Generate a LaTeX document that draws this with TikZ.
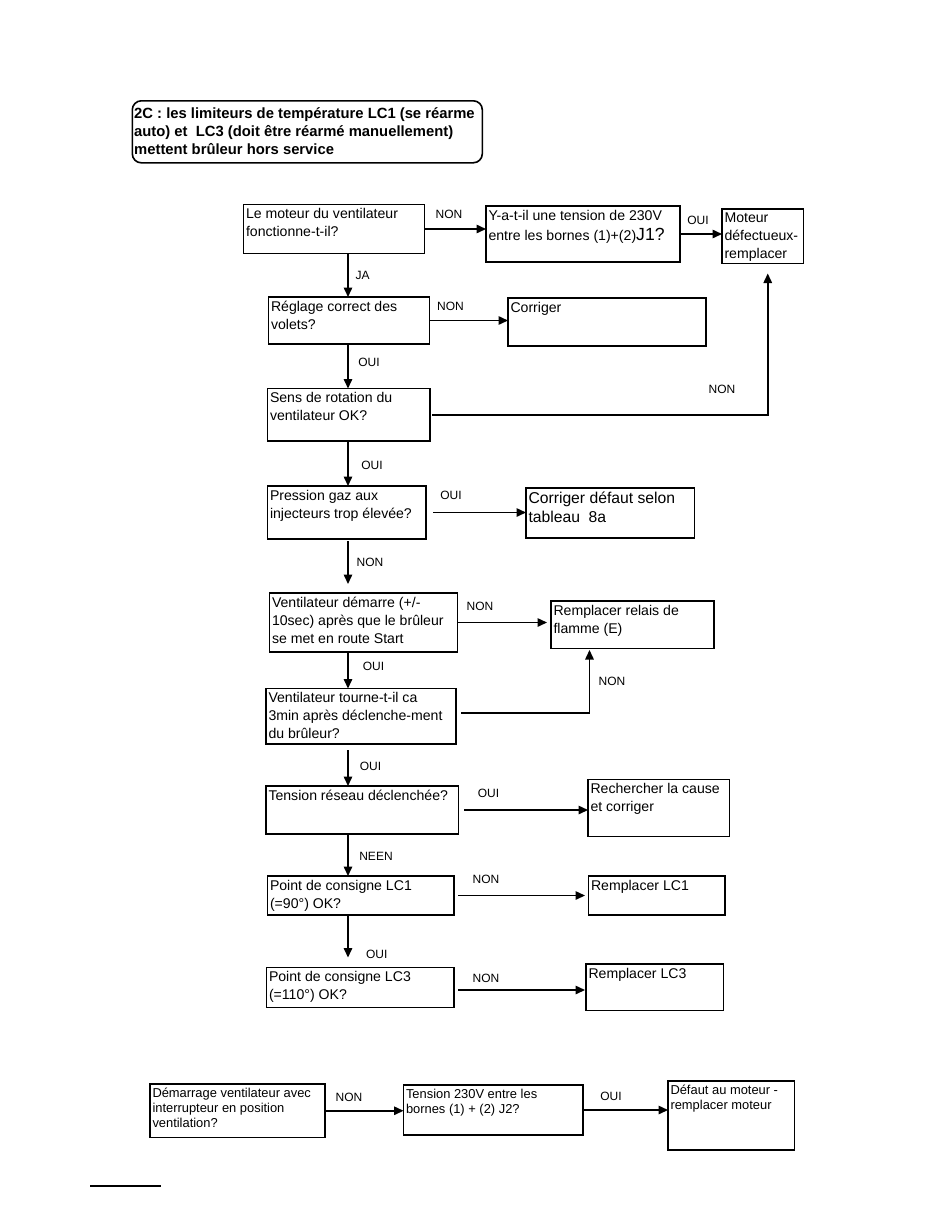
\documentclass[tikz,border=0pt]{standalone}
\usepackage{fontspec}
\setmainfont{Liberation Sans}
\usetikzlibrary{arrows.meta,calc}
\newcommand\mkbox[5][]{%
  \node[boxst, anchor=north west, minimum width=#4pt, minimum height=#5pt, #1] (#2) at (#3) {};}
\newcommand\mktxt[3][]{%
  \node[txtst, #1] (#2t) at ([shift={(2.5,3.8)}]#2.north west) {#3};}
\begin{document}
\begin{tikzpicture}[x=1pt,y=-1pt,
  boxst/.style={draw, line width=1.7pt, inner sep=0pt, outer sep=0pt},
  txtst/.style={inner sep=0pt, outer sep=0pt, align=left, anchor=north west, font=\fontsize{14.1}{18}\selectfont},
  small/.style={font=\fontsize{12.9}{15.2}\selectfont},
  lab/.style={inner sep=0pt, font=\fontsize{12}{14}\selectfont},
  arr/.style={line width=1.5pt, -{Triangle[length=9.5pt,width=8.5pt]}},
  thin/.style={line width=1.35pt}]
\useasboundingbox[fill=white] (0,0) rectangle (950,1229);

% title
\node[draw, line width=1.6pt, rounded corners=9pt, anchor=north west, minimum width=350pt, minimum height=62pt, inner sep=0pt] (title) at (131.5,100) {};
\node[inner sep=0pt, anchor=north west, align=left, font=\bfseries\fontsize{14.8}{18.2}\selectfont] (titlet) at ([shift={(2.5,7)}]title.north west)
  {2C : les limiteurs de température LC1 (se réarme\\auto) et\ \ LC3 (doit être réarmé manuellement)\\mettent brûleur hors service};

% boxes
\mkbox{A}{243.5,204.5}{181}{49}
\mkbox{B}{486,206}{194}{56}
\mkbox{C}{722,209}{81.5}{54.5}
\mkbox{D}{268.5,297}{161}{47}
\mkbox{E}{508,298}{198}{48}
\mkbox{F}{267.5,388.5}{162.5}{52.5}
\mkbox{G}{267.5,486}{158.5}{53}
\mkbox{H}{526,488}{168.5}{50}
\mkbox{I}{269.5,593}{188}{59}
\mkbox{J}{551,601}{163}{47.5}
\mkbox{K}{266,688.5}{190}{55.5}
\mkbox{L}{266,786}{192.5}{48}
\mkbox{M}{588,779.5}{141.5}{57}
\mkbox{N}{267.5,876}{186.5}{39}
\mkbox{O}{588.5,876}{136.5}{39}
\mkbox{P}{266.5,967.5}{187.5}{40}
\mkbox{Q}{586,964}{137.5}{46.5}
\mkbox[line width=1.4pt]{R}{150,1084}{175}{53.5}
\mkbox[line width=1.4pt]{S}{403.5,1085}{179.5}{50}
\mkbox[line width=1.4pt]{Tb}{668,1081}{126.5}{69}

% texts
\mktxt{A}{Le moteur du ventilateur\\fonctionne-t-il?}
\mktxt[font=\fontsize{14.1}{20}\selectfont]{B}{Y-a-t-il une tension de 230V\\entre les bornes (1)+(2){\fontsize{17.6}{20}\selectfont J1?}}
\mktxt{C}{Moteur\\défectueux-\\remplacer}
\mktxt{D}{Réglage correct des\\volets?}
\mktxt{E}{Corriger}
\mktxt{F}{Sens de rotation du\\ventilateur OK?}
\mktxt{G}{Pression gaz aux\\injecteurs trop élevée?}
\mktxt[font=\fontsize{15.7}{19}\selectfont]{H}{Corriger défaut selon\\tableau\ \ 8a}
\mktxt{I}{Ventilateur démarre (+/-\\10sec) après que le brûleur\\se met en route Start}
\mktxt{J}{Remplacer relais de\\flamme (E)}
\mktxt{K}{Ventilateur tourne-t-il ca\\3min après déclenche-ment\\du brûleur?}
\mktxt{L}{Tension réseau déclenchée?}
\mktxt{M}{Rechercher la cause\\et corriger}
\mktxt{N}{Point de consigne LC1\\(=90°) OK?}
\mktxt{O}{Remplacer LC1}
\mktxt{P}{Point de consigne LC3\\(=110°) OK?}
\mktxt{Q}{Remplacer LC3}
\mktxt[small]{R}{Démarrage ventilateur avec\\interrupteur en position\\ventilation?}
\mktxt[small]{S}{Tension 230V entre les\\bornes (1) + (2) J2?}
\mktxt[small]{Tb}{Défaut au moteur -\\remplacer moteur}

% trunk
\coordinate (tr) at (348,0);

% connectors
\draw[arr] (A.east) -- (A.east -| B.west);
\draw[arr] (B.east) -- (B.east -| C.west);
\draw[arr] (A.south -| tr) -- (D.north -| tr);
\draw[arr] (D.east) -- (D.east -| E.west);
\draw[arr] (D.south -| tr) -- (F.north -| tr);
\draw[arr, shorten <=2pt] (F.east) -| ([xshift=5pt,yshift=-10pt]C.south);
\draw[arr] (F.south -| tr) -- (G.north -| tr);
\draw[arr, shorten <=7pt] (G.east) -- (G.east -| H.west);
\draw[arr, shorten <=2pt, shorten >=9pt] (G.south -| tr) -- (I.north -| tr);
\draw[arr, shorten >=4pt] (I.east) -- (I.east -| J.west);
\draw[arr] (I.south -| tr) -- (K.north -| tr);
\draw[arr, shorten <=5pt, shorten >=1.5pt] ([yshift=3.5pt]K.east) -| ([xshift=-43pt]J.south);
\draw[arr, shorten <=6pt] (K.south -| tr) -- (L.north -| tr);
\draw[arr, shorten <=5.5pt] (L.east) -- (L.east -| M.west);
\draw[arr] (L.south -| tr) -- (N.north -| tr);
\draw[arr, shorten <=4pt, shorten >=3.5pt] (N.east) -- (N.east -| O.west);
\draw[arr, shorten >=10pt] (N.south -| tr) -- (P.north -| tr);
\draw[arr, shorten <=4pt, shorten >=1pt] ([yshift=-2.5pt]P.east) -- ([yshift=-2.5pt]P.east -| Q.west);
\draw[arr] (R.east) -- (R.east -| S.west);
\draw[arr] (S.east) -- (S.east -| Tb.west);

% labels
\node[lab] (l1) at (449,214) {NON};
\node[lab] (l2) at (698,220) {OUI};
\node[lab] (l3) at (362.5,275) {JA};
\node[lab] (l4) at (450.5,306.7) {NON};
\node[lab] (l5) at (369,362.7) {OUI};
\node[lab] (l6) at (722,389) {NON};
\node[lab] (l7) at (372,465) {OUI};
\node[lab] (l8) at (451,495) {OUI};
\node[lab] (l9) at (370,562.7) {NON};
\node[lab] (l10) at (480,606.7) {NON};
\node[lab] (l11) at (373.5,666.7) {OUI};
\node[lab] (l12) at (612,681.7) {NON};
\node[lab] (l13) at (370.5,766) {OUI};
\node[lab] (l14) at (488.5,793.3) {OUI};
\node[lab] (l15) at (376,856.7) {NEEN};
\node[lab] (l16) at (486,879) {NON};
\node[lab] (l17) at (376.7,954) {OUI};
\node[lab] (l18) at (486,978.3) {NON};
\node[lab] (l19) at (349,1097) {NON};
\node[lab] (l20) at (611,1096.7) {OUI};

% footer rule
\draw[line width=1.3pt] (90,1186) -- (160.5,1186);
\end{tikzpicture}
\end{document}
